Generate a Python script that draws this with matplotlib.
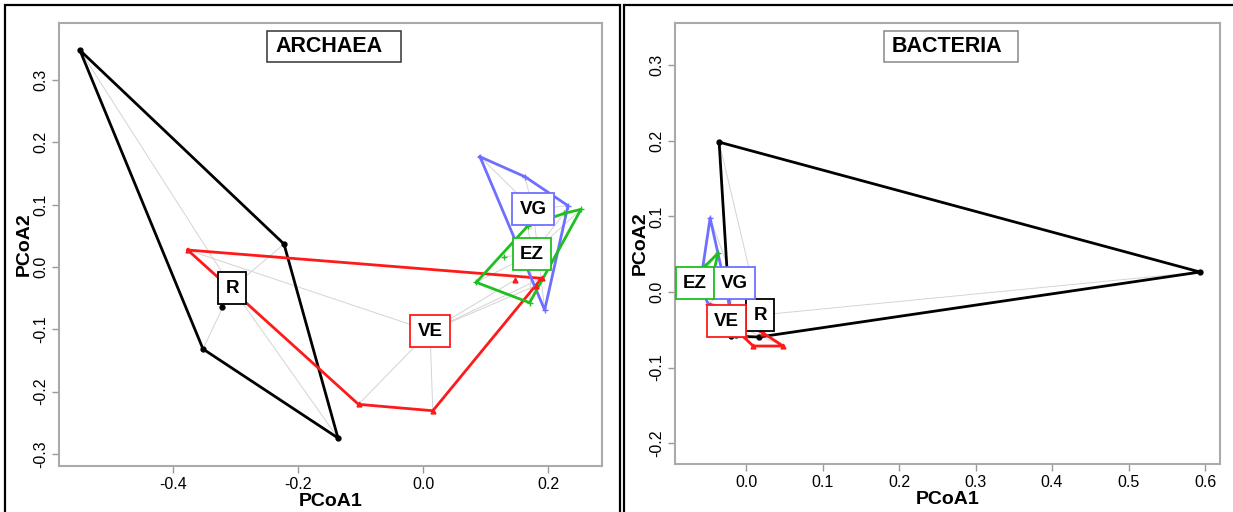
import numpy as np
import matplotlib.pyplot as plt
from matplotlib.patches import Rectangle

plt.rcParams['font.family'] = ['Liberation Sans', 'DejaVu Sans']

# PCoA scores per group
groups = ['R', 'VE', 'VG', 'EZ']
colors = {'R': 'black', 'VE': '#ff1a1a', 'VG': '#6f6fff', 'EZ': '#1fbf1f'}
markers = {'R': 'o', 'VE': '^', 'VG': '+', 'EZ': '+'}

# ARCHAEA
arc_x = {'R': [-0.549, -0.2224, -0.136, -0.352, -0.3216],
         'VE': [-0.3765, -0.1032, 0.0157, 0.1896, 0.1472, 0.180],
         'VG': [0.0912, 0.1632, 0.232, 0.1947, 0.1792],
         'EZ': [0.1675, 0.2528, 0.1706, 0.0853, 0.1296, 0.2262]}
arc_y = {'R': [0.348, 0.0369, -0.2745, -0.1316, -0.0642],
         'VE': [0.0273, -0.2204, -0.2307, -0.0181, -0.0209, -0.030],
         'VG': [0.1770, 0.1449, 0.0984, -0.069, 0.1156],
         'EZ': [0.0658, 0.0926, -0.0573, -0.0246, 0.0165, 0.0862]}
arc_cx = {'R': -0.3056, 'VE': 0.0112, 'VG': 0.176, 'EZ': 0.1744}
arc_cy = {'R': -0.0337, 'VE': -0.1027, 'VG': 0.0931, 'EZ': 0.0209}

# BACTERIA
bac_x = {'R': [-0.0353, 0.5935, 0.017, -0.0196, -0.0131],
         'VE': [-0.0471, 0.0092, 0.0484, 0.0222, -0.0013],
         'VG': [-0.0471, -0.0601, -0.0497, -0.0209, -0.0405],
         'EZ': [-0.0366, -0.0536, -0.0418, -0.0497]}
bac_y = {'R': [0.1984, 0.0265, -0.0595, -0.0582, -0.0569],
         'VE': [-0.0172, -0.0714, -0.0714, -0.0542, -0.0569],
         'VG': [0.0979, 0.0093, -0.0159, -0.0212, 0.0159],
         'EZ': [0.0516, 0.0344, 0.0291, 0.0225]}
bac_cx = {'R': 0.0183, 'VE': -0.0261, 'VG': -0.0157, 'EZ': -0.0667}
bac_cy = {'R': -0.0304, 'VE': -0.0384, 'VG': 0.0119, 'EZ': 0.0119}

arc_xticks = [-0.4, -0.2, 0.0, 0.2]
arc_xlabels = ['-0.4', '-0.2', '0.0', '0.2']
arc_yticks = [-0.3, -0.2, -0.1, 0.0, 0.1, 0.2, 0.3]
arc_ylabels = ['-0.3', '-0.2', '-0.1', '0.0', '0.1', '0.2', '0.3']
bac_xticks = [0.0, 0.1, 0.2, 0.3, 0.4, 0.5, 0.6]
bac_xlabels = ['0.0', '0.1', '0.2', '0.3', '0.4', '0.5', '0.6']
bac_yticks = [-0.2, -0.1, 0.0, 0.1, 0.2, 0.3]
bac_ylabels = ['-0.2', '-0.1', '0.0', '0.1', '0.2', '0.3']


def hull(px, py):
    pts = sorted(set(zip(px, py)))
    def cross(o, a, b):
        return (a[0] - o[0]) * (b[1] - o[1]) - (a[1] - o[1]) * (b[0] - o[0])
    lower, upper = [], []
    for p in pts:
        while len(lower) >= 2 and cross(lower[-2], lower[-1], p) <= 0:
            lower.pop()
        lower.append(p)
    for p in reversed(pts):
        while len(upper) >= 2 and cross(upper[-2], upper[-1], p) <= 0:
            upper.pop()
        upper.append(p)
    h = lower[:-1] + upper[:-1]
    h.append(h[0])
    return np.array(h)


def panel(ax, xs, ys, cxs, cys, title, title_ec, xticks, xlabels, yticks, ylabels, xlim, ylim):
    for g in groups:
        for x, y in zip(xs[g], ys[g]):
            ax.plot([cxs[g], x], [cys[g], y], color='#d4d4d4', lw=0.7, zorder=1)
    for g in groups:
        h = hull(xs[g], ys[g])
        ax.plot(h[:, 0], h[:, 1], color=colors[g], lw=2, zorder=2)
        ax.plot(xs[g], ys[g], ls='none', marker=markers[g], color=colors[g],
                ms=3.5 if markers[g] != '+' else 5, mew=1, zorder=3)
    for g in groups:
        ax.text(cxs[g], cys[g], g, ha='center', va='center', fontsize=13.5,
                fontweight='bold', zorder=5,
                bbox=dict(boxstyle='square,pad=0.38', fc='white', ec=colors[g], lw=1.3))
    # title box, text sits left inside a wider box
    ax.add_patch(Rectangle((0.3835, 0.911), 0.246, 0.07, transform=ax.transAxes,
                           fc='white', ec=title_ec, lw=1.1, zorder=5))
    ax.text(0.398, 0.946, title, transform=ax.transAxes, ha='left', va='center',
            fontsize=15.5, fontweight='bold', zorder=6)
    ax.set_xlim(xlim)
    ax.set_ylim(ylim)
    ax.set_xticks(xticks)
    ax.set_xticklabels(xlabels)
    ax.set_yticks(yticks)
    ax.set_yticklabels(ylabels, rotation=90, va='center')
    ax.tick_params(colors='#999999', labelcolor='black', labelsize=11.5,
                   length=5, width=1, pad=3)
    for s in ax.spines.values():
        s.set_color('#aaaaaa')
        s.set_linewidth(1.5)
    ax.set_xlabel('PCoA1', fontsize=14, fontweight='bold', labelpad=1)
    ax.set_ylabel('PCoA2', fontsize=14, fontweight='bold', labelpad=0)


fig = plt.figure(figsize=(12.33, 5.12), dpi=100)
W, H = 1233, 512
ax1 = fig.add_axes([59 / W, (H - 466) / H, 543 / W, 443 / H])
ax2 = fig.add_axes([675 / W, (H - 464) / H, 545 / W, 441 / H])

panel(ax1, arc_x, arc_y, arc_cx, arc_cy, 'ARCHAEA', '#333333', arc_xticks, arc_xlabels,
      arc_yticks, arc_ylabels, (-0.5824, 0.2864), (-0.3194, 0.3917))
panel(ax2, bac_x, bac_y, bac_cx, bac_cy, 'BACTERIA', '#888888', bac_xticks, bac_xlabels,
      bac_yticks, bac_ylabels, (-0.093, 0.6196), (-0.2275, 0.356))

# black frames around the two panels
fig.patches.append(Rectangle((5 / W, -0.05), 615 / W, (H - 5) / H + 0.05,
                             transform=fig.transFigure, fill=False, ec='black', lw=1.6))
fig.patches.append(Rectangle((624 / W, -0.05), 620 / W, (H - 5) / H + 0.05,
                             transform=fig.transFigure, fill=False, ec='black', lw=1.6))

fig.savefig('out.png', dpi=100)
